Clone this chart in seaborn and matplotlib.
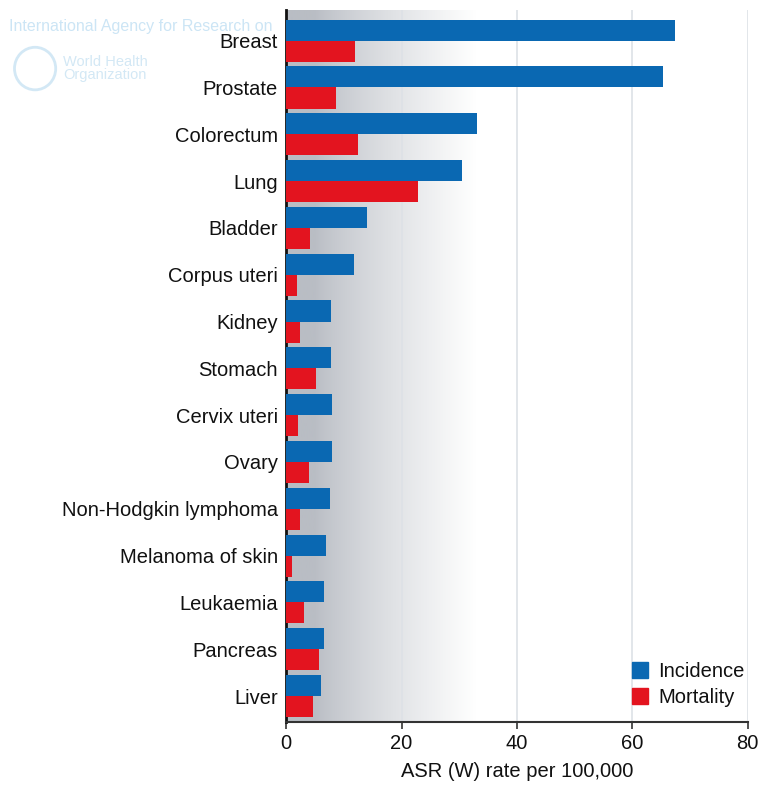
import numpy as np
import pandas as pd
import matplotlib
matplotlib.use('Agg')
import matplotlib.pyplot as plt
import seaborn as sns
from matplotlib.colors import LinearSegmentedColormap
from matplotlib.patches import Patch

# cancer sites, top to bottom
sites = ['Breast', 'Prostate', 'Colorectum', 'Lung', 'Bladder', 'Corpus uteri',
         'Kidney', 'Stomach', 'Cervix uteri', 'Ovary', 'Non-Hodgkin lymphoma',
         'Melanoma of skin', 'Leukaemia', 'Pancreas', 'Liver']
incidence = [67.4, 65.3, 33.1, 30.5, 14.0, 11.7, 7.8, 7.8, 7.9, 7.9, 7.6, 6.9, 6.5, 6.5, 6.0]
mortality = [12.0, 8.6, 12.4, 22.9, 4.2, 1.9, 2.4, 5.2, 2.1, 3.9, 2.4, 1.1, 3.1, 5.7, 4.6]
measures = ['Incidence', 'Mortality']
xticks = [0, 20, 40, 60, 80]

df = pd.DataFrame({
    'site': sites * 2,
    'rate': incidence + mortality,
    'measure': ['Incidence'] * len(sites) + ['Mortality'] * len(sites),
})

sns.set_style('white')
plt.rcParams['font.family'] = ['Liberation Sans', 'DejaVu Sans']
plt.rcParams['text.color'] = '#111111'
plt.rcParams['axes.labelcolor'] = '#111111'
plt.rcParams['xtick.color'] = '#111111'
plt.rcParams['ytick.color'] = '#111111'

blue = '#0a68b2'
red = '#e3141f'

fig = plt.figure(figsize=(7.63, 7.88), dpi=100)
ax = fig.add_axes([0.375, 0.084, 0.605, 0.903])

sns.barplot(data=df, y='site', x='rate', hue='measure', orient='h',
            palette=[blue, red], width=0.9, gap=0, saturation=1,
            edgecolor='none', legend=False, ax=ax, zorder=3)

ax.set_xlim(0, 80)
ax.set_ylim(14.55, -0.65)

# grey shading fading to white
xs = np.linspace(0, 80, 400)
shade = np.clip((xs - 5) / 28, 0, 1) ** 0.8
cmap = LinearSegmentedColormap.from_list('bg', ['#b9bdc4', '#ffffff'])
ax.imshow(shade[np.newaxis, :], extent=[0, 80, 14.55, -0.65], aspect='auto',
          cmap=cmap, vmin=0, vmax=1, zorder=0)
ax.set_xlim(0, 80)
ax.set_ylim(14.55, -0.65)

for x in xticks[1:]:
    ax.axvline(x, color='#dde1e6', lw=1.2, zorder=1)

ax.set_xticks(xticks)
ax.tick_params(axis='x', length=5, width=1.2, color='#333333', labelsize=14.5, pad=4, bottom=True)
ax.tick_params(axis='y', length=0, labelsize=14.5, pad=6)
ax.set_xlabel('ASR (W) rate per 100,000', fontsize=14.5, labelpad=6)
ax.set_ylabel('')

for side in ['top', 'right']:
    ax.spines[side].set_visible(False)
ax.spines['left'].set_color('#111111')
ax.spines['left'].set_linewidth(2)
ax.spines['bottom'].set_color('#333333')
ax.spines['bottom'].set_linewidth(1.5)

handles = [Patch(color=blue), Patch(color=red)]
ax.legend(handles, measures, loc='lower right', frameon=False, fontsize=14.5,
          handlelength=0.8, handleheight=0.8, handletextpad=0.5,
          labelspacing=0.35, borderaxespad=0.2, bbox_to_anchor=(1.02, 0.004))

# faint watermark
fig.text(0.012, 0.966, 'International Agency for Research on', color='#cce5f5',
         fontsize=11.5, ha='left', va='center', zorder=0)
fig.text(0.083, 0.913, 'World Health\nOrganization', color='#d3e8f5', fontsize=10.5,
         ha='left', va='center', linespacing=0.9, zorder=0)
fig.patches.append(plt.Circle((0.046, 0.913), 0.027, transform=fig.transFigure,
                              fill=False, ec='#d3e8f5', lw=2))

fig.savefig('out.png', dpi=100)
